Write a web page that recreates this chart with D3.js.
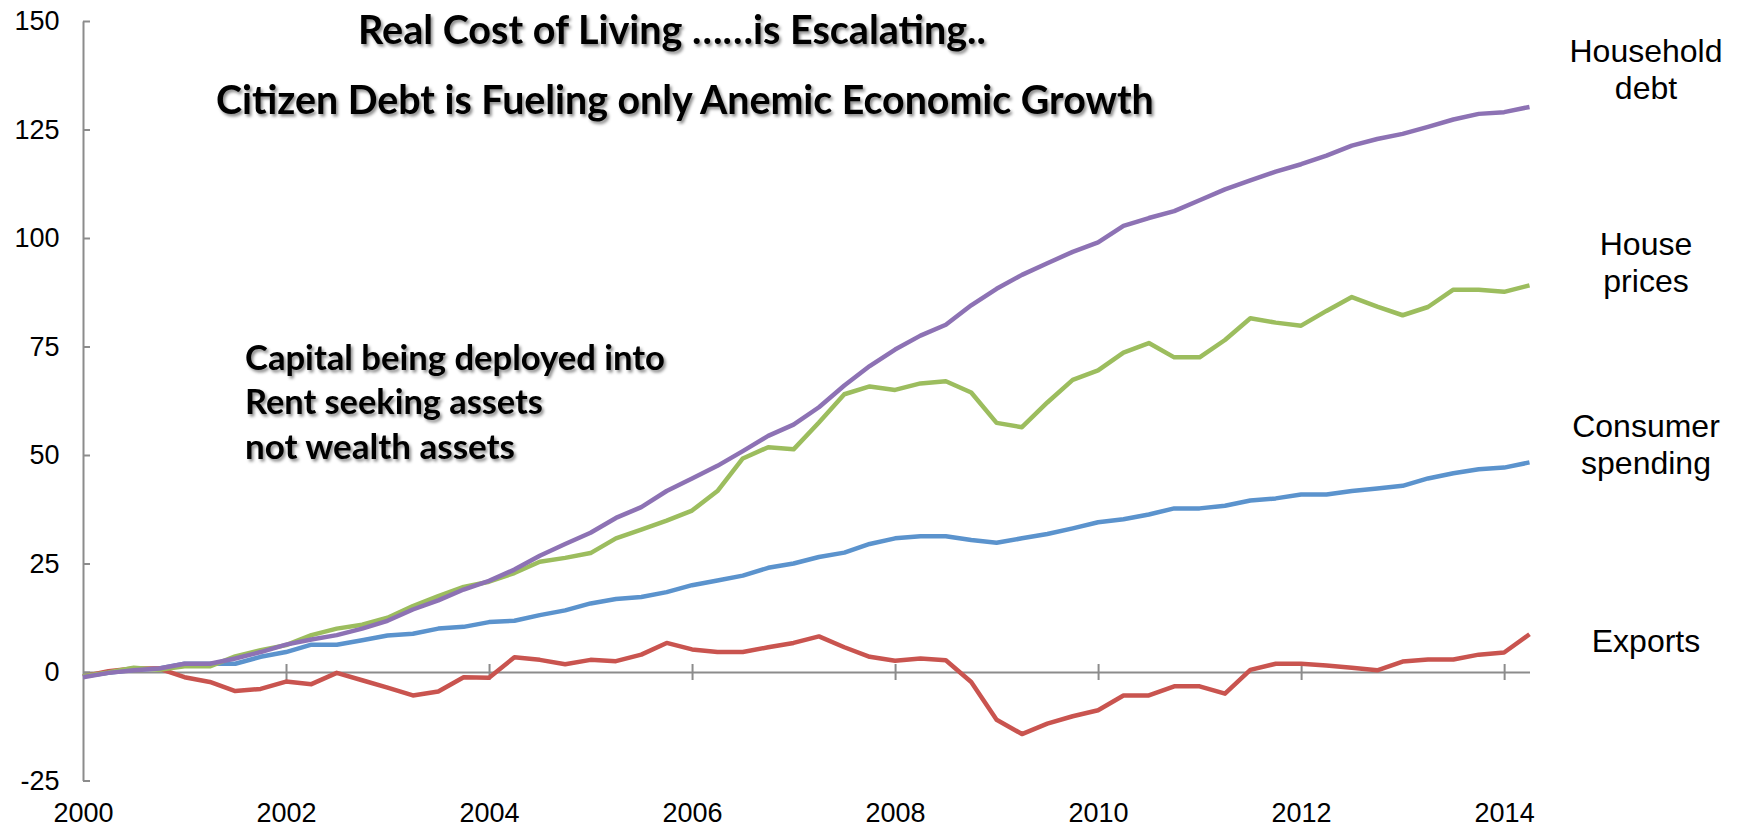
<!DOCTYPE html>
<html><head><meta charset="utf-8">
<script src="https://cdn.jsdelivr.net/npm/d3@7"></script>
<style>html,body{margin:0;padding:0;background:#fff;} svg{display:block;}</style>
</head><body>
<svg id="chart" width="1741" height="830"></svg>
<script>
const quarters = [
 "2000Q1","2000Q2","2000Q3","2000Q4","2001Q1","2001Q2","2001Q3","2001Q4",
 "2002Q1","2002Q2","2002Q3","2002Q4","2003Q1","2003Q2","2003Q3","2003Q4",
 "2004Q1","2004Q2","2004Q3","2004Q4","2005Q1","2005Q2","2005Q3","2005Q4",
 "2006Q1","2006Q2","2006Q3","2006Q4","2007Q1","2007Q2","2007Q3","2007Q4",
 "2008Q1","2008Q2","2008Q3","2008Q4","2009Q1","2009Q2","2009Q3","2009Q4",
 "2010Q1","2010Q2","2010Q3","2010Q4","2011Q1","2011Q2","2011Q3","2011Q4",
 "2012Q1","2012Q2","2012Q3","2012Q4","2013Q1","2013Q2","2013Q3","2013Q4",
 "2014Q1","2014Q2"];

const householdDebt = [
 -1.2,-0.2,0.4,0.8,1.9,1.9,3.1,4.6,6.3,7.5,8.5,10.0,11.8,14.4,16.5,19.0,
 21.0,23.6,26.8,29.5,32.1,35.5,38.0,41.7,44.6,47.5,50.9,54.4,57.0,61.0,66.0,70.5,
 74.3,77.5,80.0,84.5,88.3,91.5,94.2,96.8,99.0,102.8,104.6,106.2,108.7,111.2,113.3,115.3,
 117.0,119.0,121.3,122.8,124.0,125.6,127.3,128.6,129.0,130.2];

const housePrices = [
 -1.0,-0.1,1.0,0.5,1.3,1.3,3.6,5.0,6.2,8.5,10.0,10.9,12.5,15.2,17.5,19.6,
 20.8,22.8,25.4,26.3,27.4,30.8,32.8,34.9,37.2,41.7,49.2,51.8,51.3,57.5,64.0,65.8,
 65.0,66.5,67.0,64.4,57.4,56.4,62.1,67.3,69.5,73.6,75.8,72.5,72.5,76.5,81.5,80.5,
 79.8,83.2,86.4,84.2,82.2,84.1,88.1,88.1,87.6,89.1];

const consumerSpending = [
 -1.0,-0.2,0.5,0.8,1.9,1.9,1.9,3.5,4.6,6.3,6.3,7.3,8.4,8.8,10.0,10.4,
 11.5,11.8,13.1,14.2,15.8,16.8,17.3,18.4,20.0,21.1,22.2,24.0,25.0,26.5,27.5,29.5,
 30.8,31.3,31.3,30.4,29.8,30.8,31.8,33.1,34.5,35.2,36.3,37.7,37.7,38.3,39.5,40.0,
 40.9,40.9,41.7,42.3,42.9,44.6,45.8,46.7,47.1,48.3];

const exportsData = [
 -1.0,0.2,0.8,0.8,-1.2,-2.3,-4.4,-3.9,-2.2,-2.8,-0.2,-1.9,-3.6,-5.4,-4.5,-1.2,
 -1.3,3.4,2.8,1.8,2.8,2.5,4.0,6.7,5.2,4.6,4.6,5.7,6.7,8.2,5.7,3.5,
 2.6,3.1,2.7,-2.3,-11.0,-14.3,-11.9,-10.2,-8.8,-5.4,-5.4,-3.3,-3.3,-5.0,0.5,1.9,
 1.9,1.5,1.0,0.4,2.4,2.9,2.9,4.0,4.5,8.7];

const yTickValues = [-25, 0, 25, 50, 75, 100, 125, 150];
const xTickYears = [2000, 2002, 2004, 2006, 2008, 2010, 2012, 2014];
const titleLines = ["Real Cost of Living ……is Escalating..", "Citizen Debt is Fueling only Anemic Economic Growth"];
const noteLines = ["Capital being deployed into", "Rent seeking assets", "not wealth assets"];
const seriesLabels = [["Consumer", "spending"], ["Exports"], ["House", "prices"], ["Household", "debt"]];

// ---- build ----
const toYear = q => +q.slice(0, 4) + (+q.slice(5) - 1) / 4;
const series = [
  {values: consumerSpending, color: "#5b93cd", label: seriesLabels[0], ly: 437},
  {values: exportsData,      color: "#c9544f", label: seriesLabels[1], ly: 652},
  {values: housePrices,      color: "#9cbd5e", label: seriesLabels[2], ly: 255},
  {values: householdDebt,    color: "#8d72b4", label: seriesLabels[3], ly: 62}
];

const svg = d3.select("#chart");
const x = d3.scaleLinear().domain([2000, toYear(quarters[quarters.length - 1])]).range([83, 1529.5]);
const y = d3.scaleLinear().domain([-25, 150]).range([780.5, 21]);
const axisColor = "#8c8c8c";

// shadow filter
const defs = svg.append("defs");
const f = defs.append("filter").attr("id", "shadow").attr("x", "-5%").attr("y", "-30%").attr("width", "115%").attr("height", "180%");
f.append("feDropShadow").attr("dx", 2).attr("dy", 2.5).attr("stdDeviation", 1.6)
  .attr("flood-color", "#000").attr("flood-opacity", 0.45);

// y axis
const yAxis = svg.append("g").attr("transform", `translate(${x(2000)},0)`)
  .call(d3.axisLeft(y).tickValues(yTickValues).tickFormat(d => String(d))
    .tickSizeInner(-7).tickSizeOuter(0).tickPadding(23.5));
yAxis.select(".domain").attr("stroke", axisColor).attr("stroke-width", 2);
yAxis.selectAll(".tick line").attr("stroke", axisColor).attr("stroke-width", 2);
yAxis.selectAll(".tick text").attr("font-family", "'Liberation Sans', Arial, sans-serif")
  .attr("font-size", 27).attr("fill", "#000");

// x axis line at zero with crossing ticks
const xAxis = svg.append("g").attr("transform", `translate(0,${y(0)})`)
  .call(d3.axisBottom(x).tickValues(xTickYears.slice(1)).tickSizeInner(8).tickSizeOuter(0).tickFormat(""));
xAxis.select(".domain").attr("stroke", axisColor).attr("stroke-width", 2);
xAxis.selectAll(".tick line").attr("stroke", axisColor).attr("stroke-width", 2).attr("y1", -8);

// x labels at bottom
const xLab = svg.append("g").attr("transform", `translate(0,805)`)
  .call(d3.axisBottom(x).tickValues(xTickYears).tickFormat(d => String(d)).tickSize(0).tickPadding(0));
xLab.select(".domain").remove();
xLab.selectAll(".tick text").attr("font-family", "'Liberation Sans', Arial, sans-serif")
  .attr("font-size", 27).attr("fill", "#000").attr("dy", 0).attr("y", 17);

// lines
const line = d3.line().x((d, i) => x(toYear(quarters[i]))).y(d => y(d));
series.forEach(s => {
  svg.append("path").datum(s.values).attr("d", line)
    .attr("fill", "none").attr("stroke", s.color).attr("stroke-width", 4.5)
    .attr("stroke-linejoin", "round");
});

// right labels
series.forEach(s => {
  s.label.forEach((t, k) => {
    svg.append("text").attr("x", 1646).attr("y", s.ly + k * 37).attr("text-anchor", "middle")
      .attr("font-family", "'Liberation Sans', Arial, sans-serif").attr("font-size", 32)
      .attr("fill", "#000").text(t);
  });
});

// bold texts with shadow
function boldText(txt, x0, yb, targetW) {
  const t = svg.append("text").attr("x", x0).attr("y", yb)
    .attr("font-family", "Lato, 'Open Sans', sans-serif").attr("font-weight", 700)
    .attr("font-size", 32).attr("fill", "#000").attr("filter", "url(#shadow)").text(txt);
  const w = t.node().getComputedTextLength();
  t.attr("font-size", 32 * targetW / w);
  return t;
}
boldText(titleLines[0], 358, 44, 628);
boldText(titleLines[1], 216, 114, 938);
boldText(noteLines[0], 245, 370, 420);
boldText(noteLines[1], 245, 414, 298);
boldText(noteLines[2], 245, 459, 270);
</script>
</body></html>
